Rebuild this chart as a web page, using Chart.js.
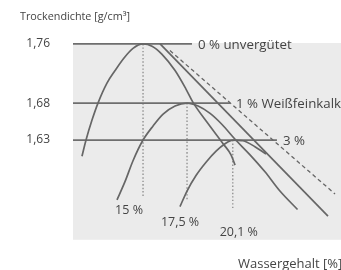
<!DOCTYPE html>
<html>
<head>
<meta charset="utf-8">
<script src="https://cdn.jsdelivr.net/npm/chart.js@4/dist/chart.umd.min.js"></script>
<style>
  html, body { margin: 0; padding: 0; background: #fff; }
  #wrap { width: 341px; height: 270px; position: relative; }
</style>
</head>
<body>
<div id="wrap"><canvas id="proctor"></canvas></div>
<script>
// Proctorkurven (Wassergehalt % / Trockendichte g/cm³)
const curve0W = [11.53, 11.76, 12.10, 12.44, 12.95, 13.41, 13.92, 14.43, 15.0, 15.51, 16.08, 16.82, 17.44, 17.84, 18.64, 19.55, 20.0, 20.23];
const curve0D = [1.608, 1.630, 1.657, 1.680, 1.707, 1.724, 1.741, 1.754, 1.760, 1.757, 1.746, 1.724, 1.699, 1.681, 1.654, 1.625, 1.610, 1.596];

const curve1W = [13.52, 13.98, 14.43, 15.0, 15.57, 16.14, 16.82, 17.5, 18.13, 18.81, 19.49, 20.23, 21.08, 21.93, 22.78, 23.78];
const curve1D = [1.549, 1.574, 1.602, 1.630, 1.649, 1.665, 1.676, 1.680, 1.676, 1.666, 1.651, 1.631, 1.610, 1.587, 1.561, 1.536];

const curve3W = [17.10, 17.5, 18.01, 18.58, 19.15, 19.66, 20.1, 20.68, 21.36, 21.99];
const curve3D = [1.540, 1.561, 1.582, 1.600, 1.615, 1.625, 1.630, 1.629, 1.621, 1.611];

// Geraden rechts (durchgezogen / gestrichelt)
const solidLineW = [15.97, 25.51];
const solidLineD = [1.760, 1.527];
const dashLineW = [16.53, 25.91];
const dashLineD = [1.751, 1.557];

// Optimum je Mischung
const maxDichte = [1.76, 1.68, 1.63];
const optWasser = [15, 17.5, 20.1];
const optLabels = ['15 %', '17,5 %', '20,1 %'];
const kurvenNamen = ['0 % unvergütet', '1 % Weißfeinkalk', '3 %'];
const linienEnde = [17.78, 19.94, 22.61];
const dottedBottom = [1.552, 1.549, 1.538];

const yTicks = [1.63, 1.68, 1.76];

// Versatz der Prozent-Beschriftungen unter den Punktlinien (px)
const labelDx = [-14, -7, 6];
const labelDy = [13, 23, 24];

const pts = (xs, ys) => xs.map((x, i) => ({ x: x, y: ys[i] }));

const grey = '#666666';
const datasets = [];

function curve(data, extra) {
    return Object.assign({
        data: data,
        showLine: true,
        borderColor: grey,
        borderWidth: 1.7,
        pointRadius: 0,
        cubicInterpolationMode: 'monotone',
        fill: false
    }, extra || {});
}

datasets.push(curve(pts(curve0W, curve0D)));
datasets.push(curve(pts(curve1W, curve1D)));
datasets.push(curve(pts(curve3W, curve3D)));
datasets.push(curve(pts(solidLineW, solidLineD)));
datasets.push(curve(pts(dashLineW, dashLineD), { borderDash: [4, 3], borderWidth: 1.3 }));

// horizontale Linien bei max. Trockendichte
maxDichte.forEach((d, i) => {
    datasets.push(curve([{ x: 11.02, y: d }, { x: linienEnde[i], y: d }], { borderWidth: 1.8, borderColor: '#6e6e6e' }));
});
// gepunktete senkrechte Linien beim optimalen Wassergehalt
optWasser.forEach((w, i) => {
    datasets.push(curve([{ x: w, y: maxDichte[i] }, { x: w, y: dottedBottom[i] }], { borderDash: [1.5, 2], borderWidth: 1.3, borderColor: '#8a8a8a' }));
});

const textPlugin = {
    id: 'texte',
    beforeDraw(chart) {
        const { ctx, chartArea } = chart;
        ctx.save();
        ctx.fillStyle = '#ebebeb';
        ctx.fillRect(chartArea.left, chartArea.top, chartArea.right - chartArea.left, chartArea.bottom - chartArea.top);
        ctx.restore();
    },
    afterDraw(chart) {
        const { ctx } = chart;
        const xs = chart.scales.x, ys = chart.scales.y;
        ctx.save();
        ctx.fillStyle = '#444444';
        ctx.textBaseline = 'middle';
        ctx.font = '10.8px "Open Sans", sans-serif';
        ctx.textAlign = 'left';
        ctx.fillText('Trockendichte [g/cm³]', 20, 17);

        ctx.font = '13.3px "Open Sans", sans-serif';
        kurvenNamen.forEach((t, i) => {
            ctx.fillText(t, xs.getPixelForValue(linienEnde[i]) + 6, ys.getPixelForValue(maxDichte[i]) + 1);
        });

        ctx.font = '12.5px "Open Sans", sans-serif';
        ctx.textAlign = 'center';
        optLabels.forEach((t, i) => {
            const px = xs.getPixelForValue(optWasser[i]);
            const py = ys.getPixelForValue(dottedBottom[i]);
            ctx.fillText(t, px + labelDx[i], py + labelDy[i]);
        });

        ctx.textAlign = 'left';
        ctx.font = '13px "Open Sans", sans-serif';
        ctx.fillText('Wassergehalt [%]', 238, 264);
        ctx.restore();
    }
};

new Chart(document.getElementById('proctor'), {
    type: 'scatter',
    data: { datasets: datasets },
    options: {
        responsive: true,
        maintainAspectRatio: false,
        animation: false,
        layout: { padding: { top: 43, bottom: 18, left: 0, right: 0 } },
        plugins: {
            legend: { display: false },
            tooltip: { enabled: false }
        },
        scales: {
            x: {
                type: 'linear',
                min: 11.02,
                max: 26.25,
                display: false
            },
            y: {
                type: 'linear',
                min: 1.495,
                max: 1.7613,
                afterBuildTicks: (s) => { s.ticks = yTicks.map(v => ({ value: v })); },
                afterFit: (s) => { s.width = 73; },
                grid: { display: false, drawTicks: false },
                border: { display: false },
                ticks: {
                    padding: 23,
                    color: '#444444',
                    font: { family: '"Open Sans", sans-serif', size: 12 },
                    callback: (v) => v.toFixed(2).replace('.', ',')
                }
            }
        }
    },
    plugins: [textPlugin]
});
</script>
</body>
</html>
